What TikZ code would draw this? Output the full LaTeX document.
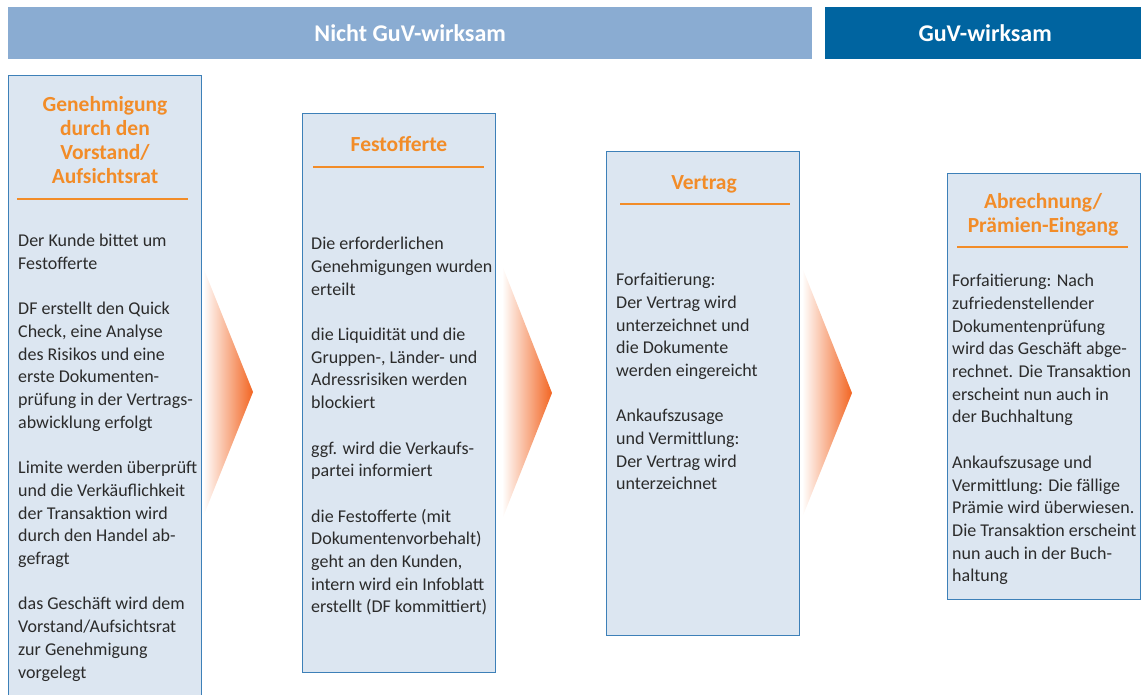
\documentclass[tikz,border=0pt]{standalone}
\usepackage{fontspec}
\setmainfont{Carlito}
\usetikzlibrary{positioning}

\definecolor{hdrlight}{HTML}{8AACD2}
\definecolor{hdrdark}{HTML}{0064A0}
\definecolor{boxfill}{HTML}{DCE6F1}
\definecolor{boxline}{HTML}{3D80B8}
\definecolor{titleorange}{HTML}{F28C28}
\definecolor{arroworange}{HTML}{F26522}
\definecolor{bodytext}{HTML}{2B2B2B}

\newcommand{\pgap}{\\[22.7pt]}

\tikzset{
  bar/.style={anchor=north west, minimum height=52pt, inner sep=0pt, text=white,
    font=\bfseries\fontsize{24}{28}\selectfont},
  phase/.style={draw=boxline, fill=boxfill, line width=1.3pt, anchor=north west,
    minimum width=193pt, inner sep=0pt},
  phasetitle/.style={anchor=north, align=center, text=titleorange, inner sep=0pt,
    font=\bfseries\fontsize{21.5}{24}\selectfont},
  phasetext/.style={anchor=north west, align=left, text=bodytext, inner sep=0pt,
    font=\fontsize{18}{22.7}\selectfont},
  rule/.style={draw=titleorange, line width=1.3pt},
  flow/.style={left color=white, right color=arroworange}
}

\begin{document}
\begin{tikzpicture}[x=1pt,y=-1pt]
  \useasboundingbox (0,0) rectangle (1141,695);
  \clip (0,0) rectangle (1141,695);

  % header bars
  \node[bar, fill=hdrlight, minimum width=804pt] (nicht) at (8,7) {Nicht GuV-wirksam};
  \node[bar, fill=hdrdark, minimum width=320pt] (guv) at (825,7) {GuV-wirksam};

  % flow arrows
  \shade[flow] (203,267) -- (253,392) -- (203,517) -- cycle;
  \shade[flow] (502,265) -- (552,393) -- (502,520) -- cycle;
  \shade[flow] (802,267) -- (852,393) -- (802,518) -- cycle;

  % Box 1
  \node[phase, minimum height=640pt] (b1) at (8,75) {};
  \node[phasetitle] (t1) at (105,96) {Genehmigung\\durch den\\Vorstand/\\Aufsichtsrat};
  \draw[rule] (17,199) -- (188,199);
  \node[phasetext] (x1) at (18,234) {Der Kunde bittet um\\Festofferte\pgap
    DF erstellt den Quick\\Check, eine Analyse\\des Risikos und eine\\erste Dokumenten-\\prüfung in der Vertrags-\\abwicklung erfolgt\pgap
    Limite werden überprüft\\und die Verkäuflichkeit\\der Transaktion wird\\durch den Handel ab-\\gefragt\pgap
    das Geschäft wird dem\\Vorstand/Aufsichtsrat\\zur Genehmigung\\vorgelegt};

  % Box 2
  \node[phase, minimum height=559pt] (b2) at (302,113) {};
  \node[phasetitle] (t2) at (399,136) {Festofferte};
  \draw[rule] (313,167) -- (484,167);
  \node[phasetext] (x2) at (311,237) {Die erforderlichen\\Genehmigungen wurden\\erteilt\pgap
    die Liquidität und die\\Gruppen-, Länder- und\\Adressrisiken werden\\blockiert\pgap
    ggf. wird die Verkaufs-\\partei informiert\pgap
    die Festofferte (mit\\Dokumentenvorbehalt)\\geht an den Kunden,\\intern wird ein Infoblatt\\erstellt (DF kommittiert)};

  % Box 3
  \node[phase, minimum height=484pt] (b3) at (606,151) {};
  \node[phasetitle] (t3) at (704,175) {Vertrag};
  \draw[rule] (620,204) -- (790,204);
  \node[phasetext] (x3) at (616,273) {Forfaitierung:\\Der Vertrag wird\\unterzeichnet und\\die Dokumente\\werden eingereicht\pgap
    Ankaufszusage\\und Vermittlung:\\Der Vertrag wird\\unterzeichnet};

  % Box 4
  \node[phase, minimum height=426pt] (b4) at (947,173) {};
  \node[phasetitle] (t4) at (1043,193) {Abrechnung/\\Prämien-Eingang};
  \draw[rule] (957,247) -- (1128,247);
  \node[phasetext] (x4) at (952,274) {Forfaitierung: Nach\\zufriedenstellender\\Dokumentenprüfung\\wird das Geschäft abge-\\rechnet. Die Transaktion\\erscheint nun auch in\\der Buchhaltung\pgap
    Ankaufszusage und\\Vermittlung: Die fällige\\Prämie wird überwiesen.\\Die Transaktion erscheint\\nun auch in der Buch-\\haltung};
\end{tikzpicture}
\end{document}
